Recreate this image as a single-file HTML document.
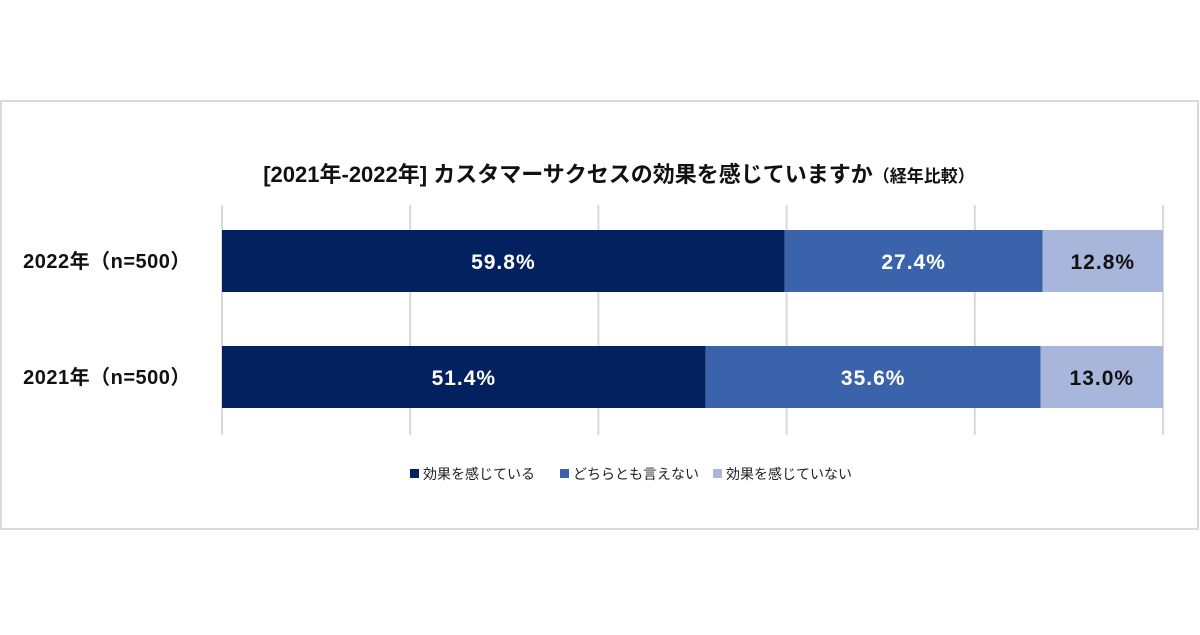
<!DOCTYPE html>
<html><head><meta charset="utf-8"><style>
body{margin:0;width:1200px;height:630px;background:#fff;overflow:hidden;font-family:"Liberation Sans","Noto Sans CJK JP",sans-serif}
</style></head><body>
<svg width="1200" height="630" id="c">
<rect x="1" y="101" width="1197" height="428" fill="#fff" stroke="#d9d9d9" stroke-width="2"/>
<text x="619" y="182" text-anchor="middle" font-size="22" font-weight="bold" fill="#111">[2021年-2022年] カスタマーサクセスの効果を感じていますか<tspan font-size="17">（経年比較）</tspan></text>
<g id="grid"></g><g id="bars"></g><g id="legend"></g>
</svg>
<script>
const categories=["2022年（n=500）","2021年（n=500）"];
const series=["効果を感じている","どちらとも言えない","効果を感じていない"];
const v1=[59.8,51.4];
const v2=[27.4,35.6];
const v3=[12.8,13.0];
const ticks=[0,20,40,60,80,100];
const colors=["#03205f","#3b63ac","#a8b6dc"];
const NS="http://www.w3.org/2000/svg";
const x0=222,x1=1163,xs=v=>x0+(x1-x0)*v/100;
const yTop=[230,346],bh=62;
function mk(t,a,p){const e=document.createElementNS(NS,t);for(const k in a)e.setAttribute(k,a[k]);p.appendChild(e);return e;}
const g=document.getElementById('grid');
ticks.forEach(t=>{const l=mk('line',{x1:xs(t),x2:xs(t),y1:205,y2:435,stroke:'#d9d9d9','stroke-width':2},g);

});
const b=document.getElementById('bars');
const vals=[v1,v2,v3];
categories.forEach((c,i)=>{
 const lab=mk('text',{x:107,y:yTop[i]+bh/2+7,'text-anchor':'middle','font-size':20,'font-weight':'bold',fill:'#111','letter-spacing':0.5},b);
 lab.textContent=c;
 
 
 let acc=0;
 vals.forEach((s,j)=>{
  const r=mk('rect',{x:xs(acc),y:yTop[i],width:xs(acc+s[i])-xs(acc),height:bh,fill:colors[j]},b);
  
  
  const t=mk('text',{x:(xs(acc)+xs(acc+s[i]))/2,y:yTop[i]+bh/2+8,'text-anchor':'middle','font-size':21,'font-weight':'bold',fill:j==2?'#111':'#fff','letter-spacing':1},b);
  t.textContent=s[i].toFixed(1)+'%';
  
  
  acc+=s[i];
 });
});
const lg=document.getElementById('legend');
const lx=[410,560,713];
series.forEach((s,j)=>{
 const r=mk('rect',{x:lx[j],y:469,width:9,height:9,fill:colors[j]},lg);
 
 
 const t=mk('text',{x:lx[j]+13,y:479,'font-size':14,fill:'#222'},lg);
 t.textContent=s;
 
 
});
</script>
</body></html>
